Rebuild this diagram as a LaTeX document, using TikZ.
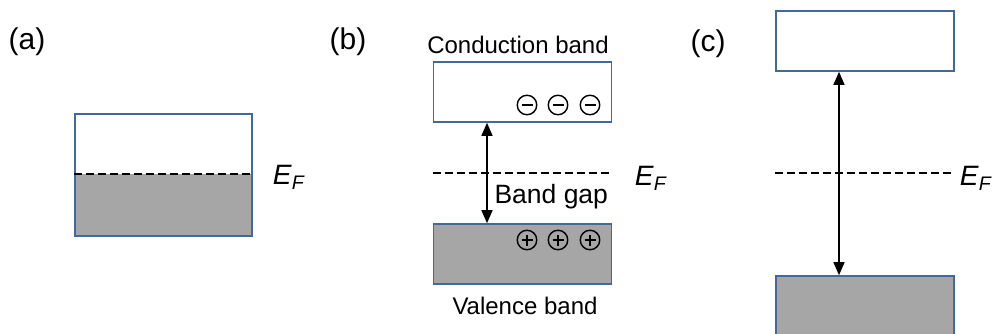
\documentclass[tikz,border=0pt]{standalone}
\usepackage{fontspec}
\setmainfont{Liberation Sans}
\usetikzlibrary{arrows.meta}
\definecolor{bandline}{RGB}{65,105,156}
\definecolor{bandfill}{RGB}{166,166,166}
\newcommand{\ef}{\textit{E}\textsubscript{\textit{F}}}
\begin{document}
\begin{tikzpicture}[x=1pt, y=-1pt,
  band/.style={rectangle, draw=bandline, line width=1.6pt, minimum width=178pt, minimum height=60pt, inner sep=0pt},
  full/.style={band, fill=bandfill},
  fermi/.style={dashed, dash pattern=on 8pt off 4pt, line width=1.4pt},
  gap/.style={{Triangle[length=13pt,width=11pt]}-{Triangle[length=13pt,width=11pt]}, line width=1.4pt},
  panel/.style={font=\fontsize{30}{34}\selectfont},
  lbl/.style={font=\fontsize{24}{28}\selectfont},
  efl/.style={font=\fontsize{28}{32}\selectfont},
  charge/.style={circle, draw, line width=1.4pt, minimum size=19.5pt, inner sep=0pt},
  electron/.style={charge, path picture={\draw[line width=1.4pt] ([xshift=-5.5pt]path picture bounding box.center) -- ([xshift=5.5pt]path picture bounding box.center);}},
  hole/.style={charge, path picture={\draw[line width=1.4pt] ([xshift=-5.5pt]path picture bounding box.center) -- ([xshift=5.5pt]path picture bounding box.center) ([yshift=-5.5pt]path picture bounding box.center) -- ([yshift=5.5pt]path picture bounding box.center);}}]
\useasboundingbox (0,0) rectangle (999,334);
% (a) metal
\node[panel] (la) at (27,42) {(a)};
\fill[bandfill] (75,174) rectangle (252,236);
\node[band, minimum width=177pt, minimum height=122pt] (ma) at (163.5,175) {};
\draw[fermi] (ma.west |- 0,174) -- (ma.east |- 0,174);
\node[efl] (efa) at (289,177) {\ef};
% (b) semiconductor
\node[panel] (lb) at (348,42) {(b)};
\node[band] (cb) at (522.5,92) {};
\node[full] (vb) at (522.5,254) {};
\node[lbl] (tcb) at (518,45) {Conduction band};
\node[lbl] (tvb) at (525,306) {Valence band};
\foreach \i/\x in {1/527,2/558,3/590} {
  \node[electron] (e\i) at (\x,105) {};
  \node[hole] (h\i) at (\x,240) {};
}
\draw[fermi] (cb.west |- 0,173) -- (cb.east |- 0,173);
\node[efl] (efb) at (651,178) {\ef};
\coordinate (gb) at (487,173);
\draw[gap] (gb |- cb.south) -- (gb |- vb.north);
\node[font=\fontsize{26.5}{30}\selectfont, anchor=west] (tgap) at (491,197) {Band gap};
% (c) insulator
\node[panel] (lc) at (708,44) {(c)};
\node[band] (ic) at (865,41) {};
\node[full] (iv) at (865,306) {};
\draw[fermi] (ic.west |- 0,173) -- (ic.east |- 0,173);
\node[efl] (efc) at (976,178) {\ef};
\coordinate (gc) at (839,173);
\draw[gap] (gc |- ic.south) -- (gc |- iv.north);
\end{tikzpicture}
\end{document}
